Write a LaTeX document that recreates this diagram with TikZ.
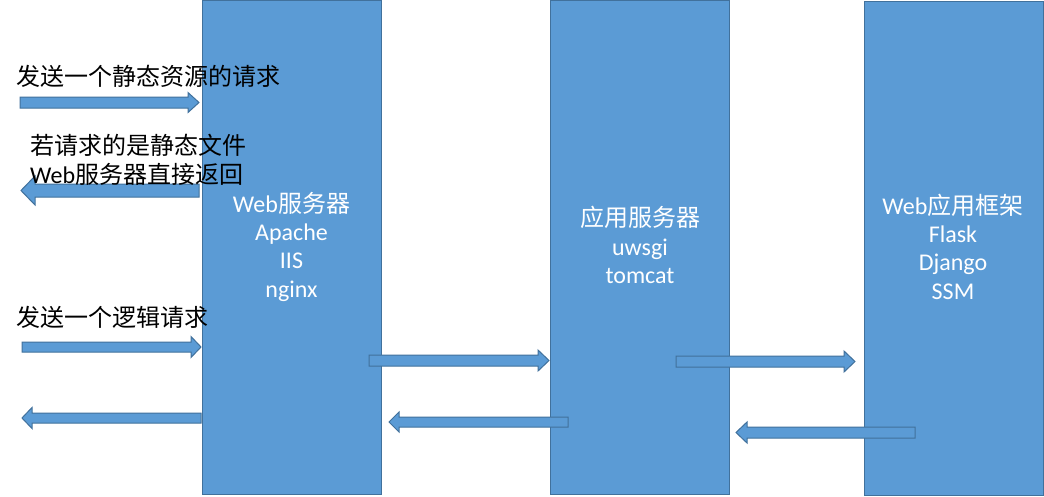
\documentclass[tikz,border=0pt]{standalone}
\usepackage{fontspec}
\setmainfont{Carlito}
\newfontfamily\cjk{Noto Sans CJK SC}
\definecolor{boxfill}{HTML}{5B9BD5}
\definecolor{boxline}{HTML}{41719C}
\newcommand\barrowR[6]{\draw[blk] (#1,#4-#5) -- (#2,#4-#5) -- (#2,#4-#6) -- (#3,#4) -- (#2,#4+#6) -- (#2,#4+#5) -- (#1,#4+#5) -- cycle;}
\newcommand\barrowL[6]{\draw[blk] (#3,#4-#5) -- (#2,#4-#5) -- (#2,#4-#6) -- (#1,#4) -- (#2,#4+#6) -- (#2,#4+#5) -- (#3,#4+#5) -- cycle;}
\begin{document}
\begin{tikzpicture}[x=1pt,y=-1pt,
  box/.style={draw=boxline,fill=boxfill,line width=1pt},
  blk/.style={draw=boxline,fill=boxfill,line width=1pt,line join=miter},
  wtxt/.style={text=white,inner sep=0pt,font=\fontsize{24}{29}\selectfont,anchor=base},
  btxt/.style={text=black,inner sep=0pt,font=\fontsize{24}{29}\selectfont,anchor=base west}]
\useasboundingbox (0,0) rectangle (1044,496);
\fill[white] (0,0) rectangle (1044,496);
% boxes
\draw[box] (202,0.5) rectangle (381.5,494) coordinate (webbox);
\draw[box] (550,0.5) rectangle (729,494) coordinate (appbox);
\draw[box] (864,1) rectangle (1043,495) coordinate (fwbox);
% box texts
\node[wtxt] (w1) at (291.5,212) {Web{\cjk 服务器}};
\node[wtxt] (w2) at (291.5,240) {Apache};
\node[wtxt] (w3) at (291.5,268.5) {IIS};
\node[wtxt] (w4) at (291.5,297) {nginx};
\node[wtxt] (a1) at (640,226) {\cjk 应用服务器};
\node[wtxt] (a2) at (640,255) {uwsgi};
\node[wtxt] (a3) at (640,283.5) {tomcat};
\node[wtxt] (f1) at (953,214) {Web{\cjk 应用框架}};
\node[wtxt] (f2) at (953,242) {Flask};
\node[wtxt] (f3) at (953,270.5) {Django};
\node[wtxt] (f4) at (953,299) {SSM};
% arrows
\barrowR{20}{188}{199}{102.5}{5.5}{10}
\barrowL{21}{35}{199}{190.5}{6.5}{14.5}
\barrowR{22}{191}{201}{347}{5}{10.5}
\barrowL{22}{32}{201}{418}{5}{10.5}
\barrowR{369}{538}{549}{360.5}{5.5}{10.5}
\barrowL{389}{399}{568}{422}{5}{10}
\barrowR{676}{844}{855}{361.5}{5.5}{10.5}
\barrowL{736}{747}{915}{432.5}{5.5}{10.5}
% black texts
\node[btxt] (t1) at (16,85.5) {\cjk 发送一个静态资源的请求};
\node[btxt] (t2) at (30,154.5) {\cjk 若请求的是静态文件};
\node[btxt] (t3) at (30,183) {Web{\cjk 服务器直接返回}};
\node[btxt] (t4) at (16,326.5) {\cjk 发送一个逻辑请求};
\end{tikzpicture}
\end{document}
